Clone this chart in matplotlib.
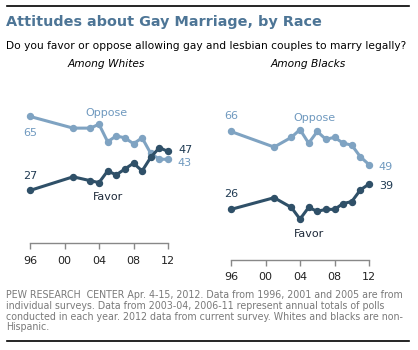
import matplotlib
matplotlib.use("Agg")
import matplotlib.pyplot as plt

years = [1996, 2001, 2003, 2004, 2005, 2006, 2007, 2008, 2009, 2010, 2011, 2012]
white_oppose = [65, 59, 59, 61, 52, 55, 54, 51, 54, 46, 43, 43]
white_favor = [27, 34, 32, 31, 37, 35, 38, 41, 37, 44, 49, 47]
black_oppose = [66, 58, 63, 67, 60, 66, 62, 63, 60, 59, 53, 49]
black_favor = [26, 32, 27, 21, 27, 25, 26, 26, 29, 30, 36, 39]
tick_years = [1996, 2000, 2004, 2008, 2012]
tick_labels = ["96", "00", "04", "08", "12"]

OPP = "#7fa3c2"
FAV = "#2f5068"
OPP_TXT = "#6f99bf"
FAV_TXT = "#1f3a52"

W, H = 418, 350
fig = plt.figure(figsize=(W / 100, H / 100), dpi=100)
plt.rcParams['font.family'] = ['DejaVu Sans']


def fx(x):
    return x / W


def fy(y):
    return 1 - y / H


# rules
fig.add_artist(plt.Line2D([fx(7), fx(409)], [fy(6), fy(6)], color="black", lw=1.2))
fig.add_artist(plt.Line2D([fx(7), fx(409)], [fy(341), fy(341)], color="black", lw=1.2))

fig.text(fx(6), fy(22), "Attitudes about Gay Marriage, by Race", fontsize=10.4,
         fontweight="bold", color="#4d7596", va="center", ha="left")
fig.text(fx(6), fy(46), "Do you favor or oppose allowing gay and lesbian couples to marry legally?",
         fontsize=7.7, color="black", va="center", ha="left")
fig.text(fx(106), fy(64), "Among Whites", fontsize=7.7, style="italic", color="black",
         va="center", ha="center")
fig.text(fx(308), fy(64), "Among Blacks", fontsize=7.7, style="italic", color="black",
         va="center", ha="center")

foot = ("PEW RESEARCH  CENTER Apr. 4-15, 2012. Data from 1996, 2001 and 2005 are from\n"
        "individual surveys. Data from 2003-04, 2006-11 represent annual totals of polls\n"
        "conducted in each year. 2012 data from current survey. Whites and blacks are non-\n"
        "Hispanic.")
fig.text(fx(6), fy(290), foot, fontsize=6.85, color="#7a7a7a", va="top", ha="left",
         linespacing=1.1)

span_h = 70 * 1.947


def make_ax(left_px, axis_y_px):
    ax = fig.add_axes([fx(left_px), (H - axis_y_px) / H, 138 / W, span_h / H])
    ax.set_xlim(1996, 2012)
    ax.set_ylim(0, 70)
    for s in ["top", "right", "left"]:
        ax.spines[s].set_visible(False)
    ax.spines["bottom"].set_color("#888888")
    ax.spines["bottom"].set_linewidth(1.0)
    ax.set_yticks([])
    ax.set_xticks(tick_years)
    ax.set_xticklabels(tick_labels)
    ax.tick_params(axis="x", direction="out", length=4, width=1, color="#888888",
                   labelsize=8, labelcolor="#222222", pad=5)
    ax.patch.set_visible(False)
    return ax


def draw(ax, opp, fav):
    ax.plot(years, opp, color=OPP, lw=2.2, marker="o", ms=4.3, clip_on=False, zorder=3)
    ax.plot(years, fav, color=FAV, lw=2.2, marker="o", ms=4.3, clip_on=False, zorder=4)


def lab(ax, text, xy, off, color):
    ax.annotate(text, xy=xy, xytext=off, textcoords="offset pixels", fontsize=8,
                color=color, ha="center", va="center", annotation_clip=False)


axL = make_ax(30, 243)
draw(axL, white_oppose, white_favor)
lab(axL, str(white_oppose[0]), (years[0], white_oppose[0]), (0, -17), OPP_TXT)
lab(axL, str(white_favor[0]), (years[0], white_favor[0]), (0, 14), FAV_TXT)
lab(axL, str(white_favor[-1]), (years[-1], white_favor[-1]), (18, 1), FAV_TXT)
lab(axL, str(white_oppose[-1]), (years[-1], white_oppose[-1]), (17, -4), OPP_TXT)
axL.text(2004.9, 66.6, "Oppose", fontsize=8, color=OPP_TXT, ha="center", va="center")
axL.text(2005.0, 23.8, "Favor", fontsize=8, color="#1e2a3a", ha="center", va="center")

axR = make_ax(231, 260)
draw(axR, black_oppose, black_favor)
lab(axR, str(black_oppose[0]), (years[0], black_oppose[0]), (0, 15), OPP_TXT)
lab(axR, str(black_favor[0]), (years[0], black_favor[0]), (0, 15), FAV_TXT)
lab(axR, str(black_oppose[-1]), (years[-1], black_oppose[-1]), (17, -2.5), OPP_TXT)
lab(axR, str(black_favor[-1]), (years[-1], black_favor[-1]), (17, -2), FAV_TXT)
axR.text(2005.66, 72.7, "Oppose", fontsize=8, color=OPP_TXT, ha="center", va="center")
axR.text(2005.0, 13.3, "Favor", fontsize=8, color="#1e2a3a", ha="center", va="center")

fig.savefig("out.png", dpi=100)
